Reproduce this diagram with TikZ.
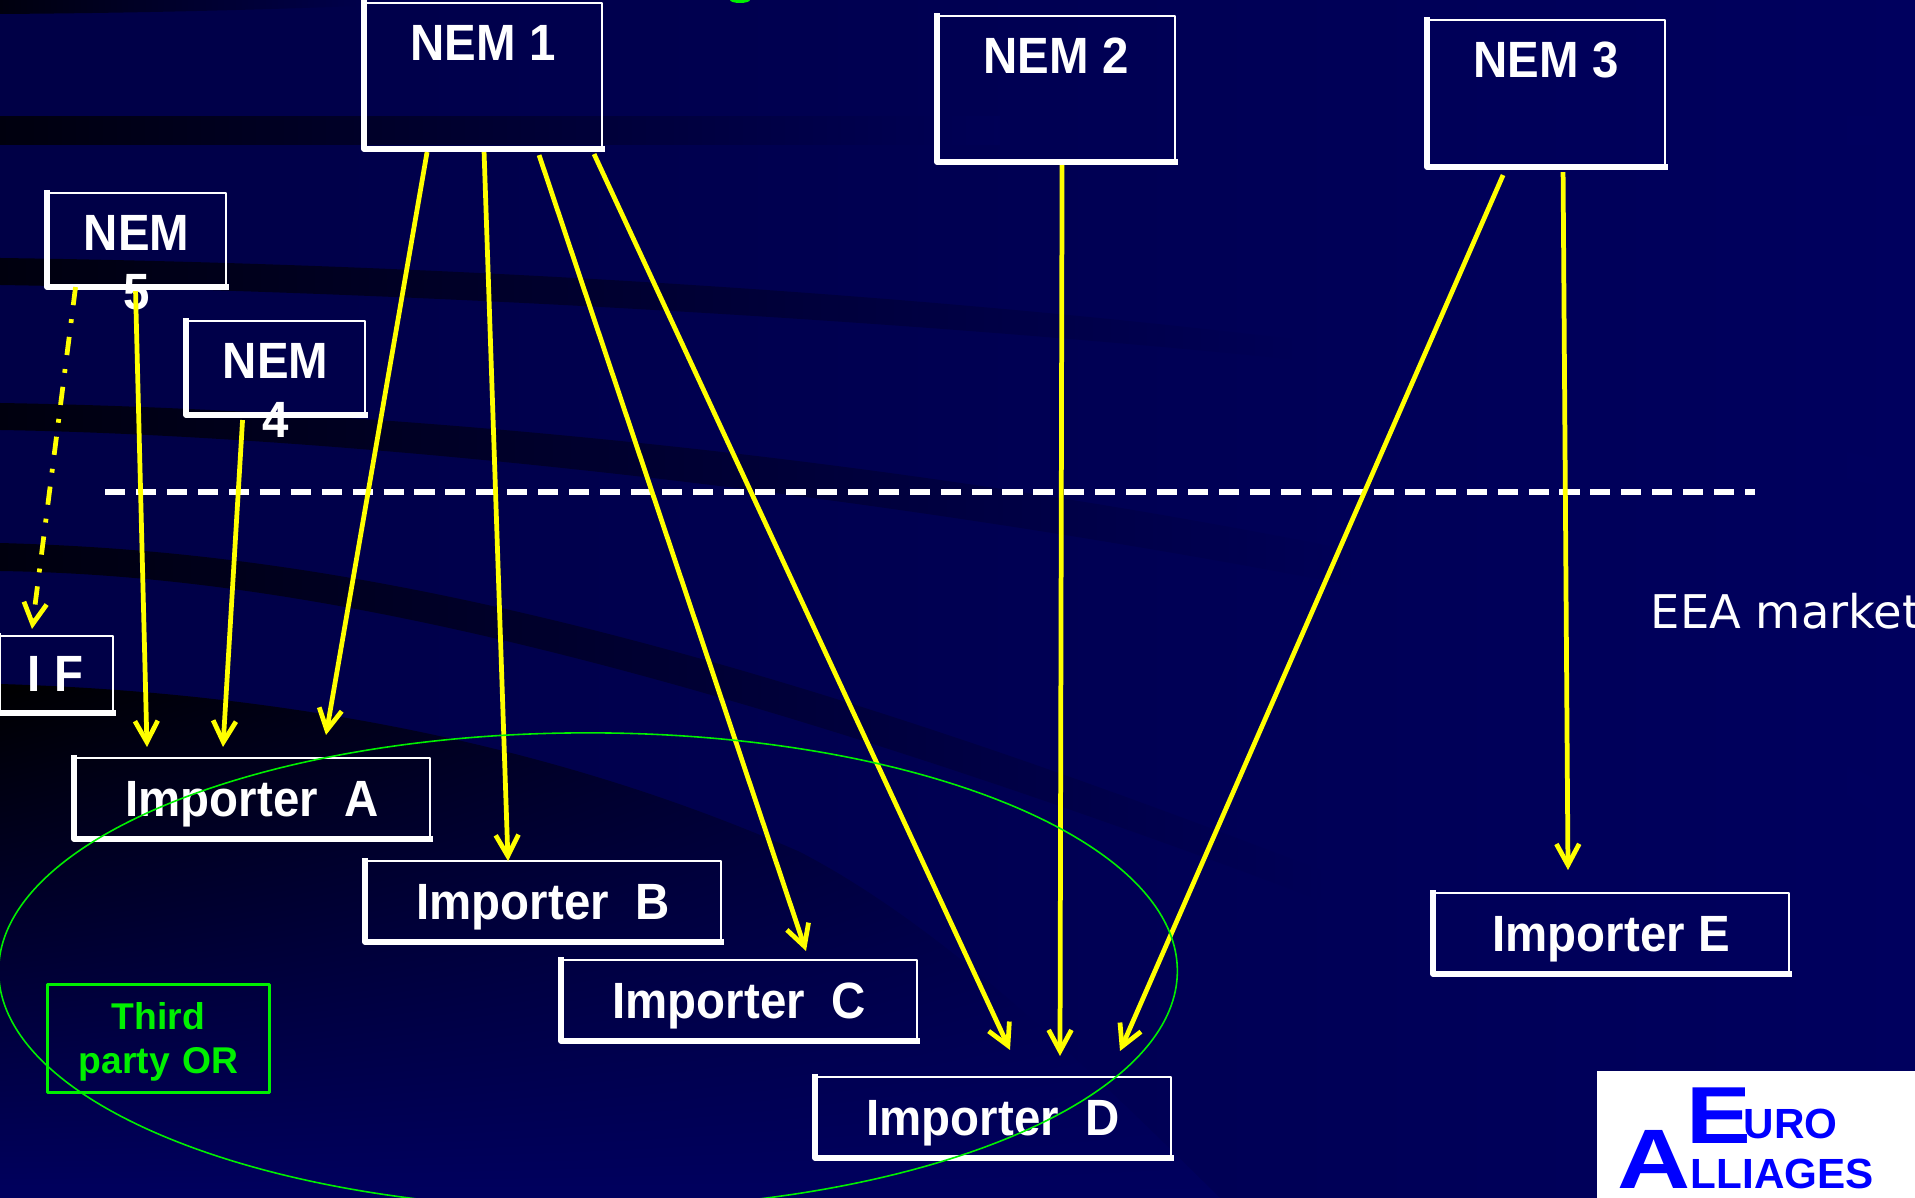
\documentclass[tikz,border=0pt]{standalone}
\usepackage{fontspec}
\setmainfont{Liberation Sans}
\newfontfamily\nemfont[FakeStretch=0.93]{Liberation Sans}
\newfontfamily\logowide[FakeStretch=1.2]{Liberation Sans}
\newfontfamily\marketfont{DejaVu Sans}
\usetikzlibrary{arrows.meta,shapes.geometric,shadings}
\definecolor{bgblue}{RGB}{0,0,94}
\definecolor{bgmid}{RGB}{0,0,86}
\definecolor{bgleft}{RGB}{0,0,70}
\definecolor{flowyellow}{RGB}{255,255,0}
\definecolor{orgreen}{RGB}{0,240,0}
\definecolor{accentblue}{RGB}{51,102,255}
\definecolor{logoblue}{RGB}{0,0,255}
\begin{document}
\begin{tikzpicture}[x=0.01cm, y=-0.01cm, line join=round,
		>={Straight Barb[length=6pt, width=6.5pt, line width=1.35pt]},
		box/.style={draw=white, line width=0.6pt, inner sep=0pt, outer sep=0pt, anchor=north west, align=center, text=white, font=\nemfont\fontsize{14.5}{17}\bfseries},
		importer/.style={box, minimum width=3.56cm, minimum height=0.81cm, text height=0.58cm, text depth=0.23cm},
		boxedge/.style={draw=white, line width=1.5pt, line cap=rect},
		flow/.style={draw=flowyellow, line width=1.35pt, ->},
		bandfade/.style={left color=black!85!bgblue, right color=bgmid},
		accent/.style={left color=bgblue, middle color=accentblue, right color=bgblue},
		logotext/.style={inner sep=0pt, anchor=base west, text=logoblue}]
	\useasboundingbox (0,0) rectangle (1915,1198);

	% Background and its dark swooshes
	\shade[left color=bgleft, right color=bgblue] (0,0) rectangle (1915,1198);
	\shade[bandfade] (0,0) -- (0,14) .. controls (150,13) and (300,9) .. (430,3) -- (430,0) -- cycle;
	\shade[bandfade] (0,117) -- (1000,117) -- (1000,145) -- (0,145) -- cycle;
	\shade[bandfade] (0,258) .. controls (300,262) and (800,280) .. (1300,340) -- (1300,360) .. controls (800,310) and (300,290) .. (0,285) -- cycle;
	\shade[bandfade] (0,403) .. controls (300,408) and (800,440) .. (1350,550) -- (1350,585) .. controls (800,480) and (300,435) .. (0,430) -- cycle;
	\shade[bandfade] (0,543) .. controls (250,550) and (600,590) .. (1320,870) -- (1320,900) .. controls (600,630) and (250,575) .. (0,571) -- cycle;
	\shade[upper left=black, upper right=bgleft, lower left=bgblue, lower right=bgblue] (0,684) .. controls (200,690) and (500,720) .. (800,852) .. controls (950,930) and (1100,1080) .. (1220,1198) -- (0,1198) -- cycle;

	% Blue accents on the right edge
	\shade[accent] (1847,117) rectangle (1915,145);
	\shade[accent] (1847,452) -- (1915,466) -- (1915,494) -- (1847,479) -- cycle;
	\shade[accent] (1847,766) .. controls (1870,775) .. (1915,807) -- (1915,841) .. controls (1880,815) .. (1847,795) -- cycle;

	% Cut off letter at the top
	\fill[orgreen] (740,0) ellipse (10 and 3);

	% Boxes
	\node[box, minimum width=2.38cm, minimum height=1.46cm, text height=0.57cm, text depth=0.89cm] (nemone) at (364,3) {NEM 1};
	\node[box, minimum width=2.38cm, minimum height=1.46cm, text height=0.57cm, text depth=0.89cm] (nemtwo) at (937,16) {NEM 2};
	\node[box, minimum width=2.38cm, minimum height=1.47cm, text height=0.57cm, text depth=0.90cm] (nemthree) at (1427,20) {NEM 3};
	\node[box, minimum width=1.79cm, minimum height=0.94cm, text width=1.79cm, text height=0.57cm, text depth=0.37cm] (nemfive) at (47,193) {NEM\\5};
	\node[box, minimum width=1.79cm, minimum height=0.94cm, text width=1.79cm, text height=0.57cm, text depth=0.37cm] (nemfour) at (186,321) {NEM\\4};
	\node[box, minimum width=1.15cm, minimum height=0.77cm, text height=0.55cm, text depth=0.22cm] (ifbox) at (-2,636) {I F};
	\node[importer] (impa) at (74,758) {Importer~~A};
	\node[importer] (impb) at (365,861) {Importer~~B};
	\node[importer] (impc) at (561,960) {Importer~~C};
	\node[importer] (impd) at (815,1077) {Importer~~D};
	\node[importer] (impe) at (1433,893) {Importer E};
	\foreach \boxname in {nemone,nemtwo,nemthree,nemfive,nemfour,ifbox,impa,impb,impc,impd,impe}
		\draw[boxedge] (\boxname.north west) -- (\boxname.south west) -- (\boxname.south east);
	\node[draw=orgreen, line width=0.75pt, inner sep=0pt, minimum width=2.22cm, minimum height=1.08cm, text width=2.22cm, text height=0.45cm, text depth=0.63cm, anchor=north west, align=center, text=orgreen, font=\fontsize{10.6}{12.5}\bfseries] (thirdparty) at (46,983) {Third\\party OR};
	\node[inner sep=0pt, anchor=base west, text=white, font=\marketfont\fontsize{13.2}{17}\selectfont] (eeamarket) at (1650,629) {EEA market};

	% Border of the market
	\draw[white, line width=1.7pt, dash pattern=on 5.7pt off 3.1pt] (105,492) -- (1755,492);

	% Flows
	\draw[flow, dash pattern=on 5.2pt off 4pt on 1.1pt off 4pt] ([shift={(-61,0)}]nemfive.south) -- ([shift={(34,-7)}]ifbox.north west);
	\draw[flow] ([shift={(-1,4)}]nemfive.south) -- ([shift={(73,-11)}]impa.north west);
	\draw[flow] ([shift={(-33,5)}]nemfour.south) -- ([shift={(149,-11)}]impa.north west);
	\draw[flow] ([shift={(-56,3)}]nemone.south) -- ([shift={(252,-23)}]impa.north west);
	\draw[flow] ([shift={(1,3)}]nemone.south) -- ([shift={(143,0)}]impb.north west);
	\draw[flow] ([shift={(56,6)}]nemone.south) -- ([shift={(245,-9)}]impc.north west);
	\draw[flow] ([shift={(111,5)}]nemone.south) -- ([shift={(195,-27)}]impd.north west);
	\draw[flow] ([shift={(6,3)}]nemtwo.south) -- ([shift={(245,-21)}]impd.north west);
	\draw[flow] ([shift={(-43,8)}]nemthree.south) -- ([shift={(305,-26)}]impd.north west);
	\draw[flow] ([shift={(17,5)}]nemthree.south) -- ([shift={(135,-23)}]impe.north west);

	% Third party zone
	\node[draw=orgreen, line width=0.45pt, ellipse, minimum width=11.78cm, minimum height=4.76cm, inner sep=0pt] (orzone) at (588,971) {};

	% Logo
	\fill[white] (1597,1071) rectangle (1915,1198);
	\node[logotext, font=\logowide\fontsize{23}{23}\bfseries] (logoe) at (1686,1143) {E};
	\node[logotext, font=\fontsize{12}{12}\bfseries] (logouro) at (1743,1138) {URO};
	\node[logotext, font=\logowide\fontsize{24}{24}\bfseries] (logoa) at (1617,1188) {A};
	\node[logotext, font=\fontsize{12}{12}\bfseries] (logolliages) at (1690,1188) {LLIAGES};
\end{tikzpicture}
\end{document}
